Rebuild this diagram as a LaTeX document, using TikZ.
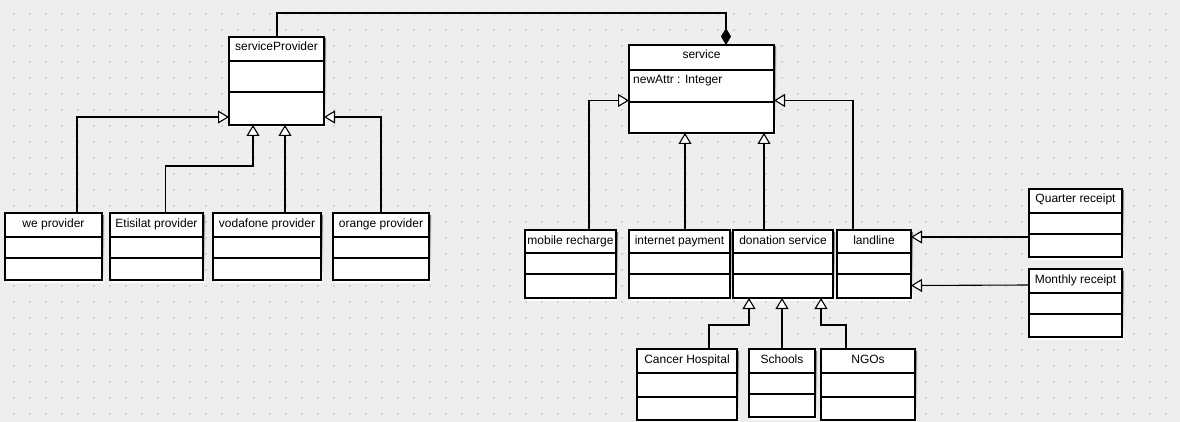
\documentclass[tikz,border=0pt]{standalone}
\usepackage{fontspec}
\setmainfont{Liberation Sans}
\usetikzlibrary{arrows.meta,calc}

\definecolor{canvas}{HTML}{EEEEEE}
\definecolor{griddot}{HTML}{D4D4D4}
\definecolor{shade}{HTML}{D8D8D8}

\tikzset{
  cls/.style={draw=black, fill=white, line width=1.2pt, inner sep=0pt, outer sep=0pt, anchor=north west},
  sepline/.style={draw=black, line width=1.2pt},
  clsname/.style={anchor=base, inner sep=0pt, font=\fontsize{12}{14}\selectfont},
  clsattr/.style={anchor=base west, inner sep=0pt, font=\fontsize{12}{14}\selectfont},
  inherit/.style={draw=black, line width=1.1pt, line join=miter,
    -{Triangle[open, fill=white, length=11pt, width=13pt]}},
  compose/.style={draw=black, line width=1.1pt,
    -{Diamond[length=17pt, width=10pt]}},
}

% class box: name, left, top, right, bottom, first divider, second divider, title
\newcommand\umlclass[8]{%
  \fill[shade] (#2+2,#3+2) rectangle (#4+2,#5+2);
  \node[cls, minimum width={(#4-#2)*1pt}, minimum height={(#5-#3)*1pt}] (#1) at (#2,#3) {};
  \draw[sepline] ($(#1.north west)+(0,#6-#3)$) -- ($(#1.north east)+(0,#6-#3)$);
  \draw[sepline] ($(#1.north west)+(0,#7-#3)$) -- ($(#1.north east)+(0,#7-#3)$);
  \node[clsname] (#1-name) at ($(#1.north)+(0,14)$) {#8};
}

\begin{document}
\begin{tikzpicture}[x=1pt, y=-1pt]
  % canvas and dotted grid
  \fill[canvas] (0,0) rectangle (1180,422);
  \useasboundingbox (0,0) rectangle (1180,422);
  \foreach \i in {0,...,73} {
    \foreach \j in {0,...,25} {
      \fill[griddot] (13+16*\i,13+16*\j) rectangle ++(2,2);
    }
  }

  % providers
  \umlclass{sp}{229}{37}{324}{125}{61}{92}{serviceProvider}
  \umlclass{wp}{5}{213}{102}{280}{237}{258}{we provider}
  \umlclass{ep}{110}{213}{203}{280}{237}{258}{Etisilat provider}
  \umlclass{vp}{213}{213}{321}{280}{237}{258}{vodafone provider}
  \umlclass{op}{333}{213}{429}{280}{237}{258}{orange provider}

  % services
  \umlclass{svc}{629}{45}{774}{133}{70}{102}{service}
  \node[clsattr] (svc-attr) at ($(svc.north west)+(4,39)$) {newAttr : Integer};
  \umlclass{mr}{525}{230}{616}{298}{253}{274}{mobile recharge}
  \umlclass{ip}{629}{230}{730}{298}{253}{274}{internet payment}
  \umlclass{ds}{733}{230}{833}{298}{253}{274}{donation service}
  \umlclass{ll}{837}{230}{911}{298}{253}{274}{landline}

  % donation targets
  \umlclass{ch}{637}{349}{737}{420}{373}{397}{Cancer Hospital}
  \umlclass{sc}{749}{349}{815}{417}{373}{394}{Schools}
  \umlclass{ng}{821}{349}{915}{420}{373}{397}{NGOs}

  % receipts
  \umlclass{qr}{1029}{189}{1122}{257}{213}{234}{Quarter receipt}
  \umlclass{mo}{1029}{269}{1122}{337}{293}{314}{Monthly receipt}

  % composition: serviceProvider -- service
  \draw[compose] ($(sp.north west)+(48,0)$) -- ++(0,-24) -| ($(svc.north west)+(97,0)$);

  % provider generalisations
  \draw[inherit] ($(wp.north west)+(72,0)$) |- ($(sp.south west)+(0,-8)$);
  \draw[inherit] ($(ep.north west)+(55.5,0)$) -- ++(0,-47) -| ($(sp.south west)+(24,0)$);
  \draw[inherit] ($(vp.north west)+(72,0)$) -- ($(sp.south west)+(56,0)$);
  \draw[inherit] ($(op.north west)+(48,0)$) |- ($(sp.south east)+(0,-8)$);

  % service generalisations
  \draw[inherit] ($(mr.north west)+(64,0)$) |- ($(svc.south west)+(0,-32.5)$);
  \draw[inherit] ($(ip.north west)+(56,0)$) -- ($(svc.south west)+(56,0)$);
  \draw[inherit] ($(ds.north west)+(31,0)$) -- ($(svc.south west)+(135,0)$);
  \draw[inherit] ($(ll.north west)+(16,0)$) |- ($(svc.south east)+(0,-32.5)$);

  % receipts to landline
  \draw[inherit] ($(qr.north west)+(0,48)$) -- ($(ll.north east)+(0,7)$);
  \draw[inherit] ($(mo.north west)+(0,16)$) -- ($(ll.south east)+(0,-12.5)$);

  % donation generalisations
  \draw[inherit] ($(ch.north west)+(72,0)$) -- ++(0,-24) -| ($(ds.south west)+(16,0)$);
  \draw[inherit] ($(sc.north west)+(33,0)$) -- ($(ds.south west)+(49,0)$);
  \draw[inherit] ($(ng.north west)+(25,0)$) -- ++(0,-24) -| ($(ds.south west)+(88,0)$);
\end{tikzpicture}
\end{document}
